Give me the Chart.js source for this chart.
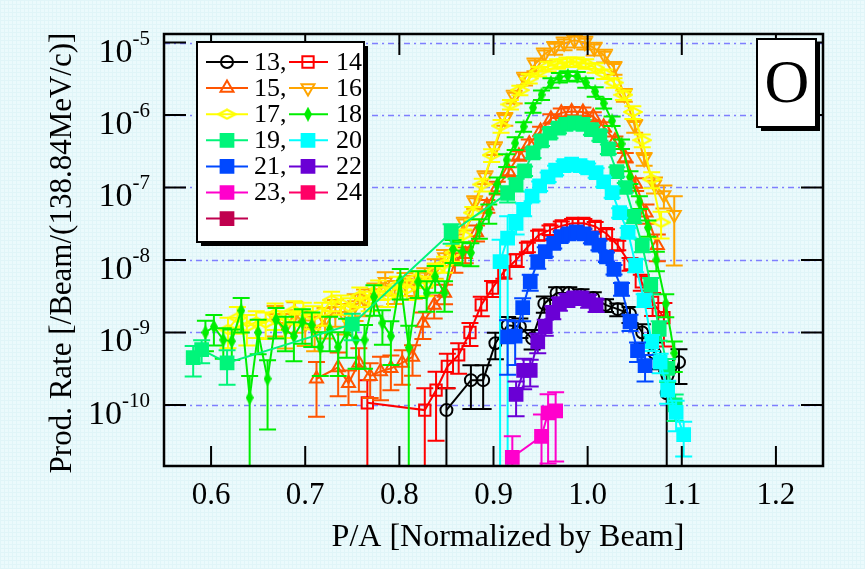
<!DOCTYPE html>
<html>
<head>
<meta charset="utf-8">
<script src="https://cdn.jsdelivr.net/npm/chart.js@4.4.1/dist/chart.umd.min.js"></script>
<style>
html, body { margin: 0; padding: 0; background: #e8f9fb; }
canvas { display: block; }
</style>
</head>
<body>
<canvas id="prodChart" width="865" height="569"></canvas>
<script>
// isotope names (legend) and axis ticks
var names = ["13", "14", "15", "16", "17", "18", "19", "20", "21", "22", "23", "24", ""];
var xTicks = [0.6, 0.7, 0.8, 0.9, 1.0, 1.1, 1.2];
var yTicks = [1e-10, 1e-9, 1e-8, 1e-7, 1e-6, 1e-5];
var yExps = ["-10", "-9", "-8", "-7", "-6", "-5"];

// 13O
var x13 = [0.850,0.876,0.889,0.902,0.915,0.928,0.941,0.954,0.967,0.980,0.993,1.006,1.019,1.032,1.045,1.058,1.071,1.084,1.097];
var y13 = [8.5e-11,2.2e-10,2.2e-10,7.1e-10,1.26e-9,1.2e-9,8.3e-10,2.5e-9,3.5e-9,3.5e-9,3.3e-9,3.0e-9,2.4e-9,2.1e-9,1.8e-9,1.0e-9,5.2e-10,1.45e-10,3.9e-10];
var e13 = [1.0,0.6,0.6,0.4,0.3,0.3,0.3,0.25,0.2,0.2,0.2,0.2,0.2,0.2,0.25,0.3,0.4,1.0,0.5];
// 14O
var x14 = [0.766,0.827,0.839,0.851,0.863,0.875,0.887,0.899,0.911,0.924,0.936,0.948,0.960,0.972,0.984,0.996,1.008,1.020,1.032,1.045,1.057,1.069,1.081];
var y14 = [1.07e-10,8.5e-11,1.6e-10,3.4e-10,4.9e-10,1.0e-9,2.4e-9,4.1e-9,6.9e-9,1.0e-8,1.5e-8,2.2e-8,2.6e-8,2.95e-8,3.2e-8,3.2e-8,2.9e-8,2.3e-8,1.6e-8,8.9e-9,5.0e-9,2.6e-9,1.6e-9];
var e14 = [1.05,1.0,0.8,0.5,0.45,0.35,0.3,0.25,0.2,0.2,0.15,0.15,0.15,0.15,0.15,0.15,0.15,0.15,0.15,0.2,0.25,0.35,0.6];
// 15O
var x15 = [0.712,0.735,0.746,0.757,0.769,0.780,0.791,0.803,0.814,0.825,0.837,0.848,0.859,0.870,0.882,0.893,0.904,0.916,0.927,0.938,0.950,0.961,0.972,0.983,0.995,1.006,1.017,1.029,1.040,1.051,1.062,1.074];
var y15 = [2.3e-10,3.3e-10,2.0e-10,3.8e-10,2.5e-10,2.9e-10,3.2e-10,3.8e-10,4.6e-10,1.35e-9,2.4e-9,3.5e-9,9.5e-9,1.2e-8,2.4e-8,5.6e-8,1.0e-7,1.66e-7,2.75e-7,4.0e-7,6.0e-7,8.9e-7,1.07e-6,1.12e-6,1.1e-6,9.5e-7,6.9e-7,4.4e-7,2.6e-7,1.12e-7,4.5e-8,1.6e-8];
var e15 = [0.7,0.6,0.5,0.6,0.5,0.6,0.5,0.5,0.45,0.4,0.35,0.3,0.3,0.25,0.25,0.2,0.2,0.15,0.15,0.15,0.15,0.15,0.15,0.15,0.15,0.15,0.15,0.15,0.15,0.2,0.3,0.4];
// 16O
var x16 = [0.668,0.679,0.689,0.700,0.710,0.721,0.732,0.742,0.753,0.763,0.774,0.785,0.795,0.806,0.816,0.827,0.838,0.848,0.859,0.869,0.880,0.891,0.901,0.912,0.922,0.933,0.944,0.954,0.965,0.975,0.986,0.997,1.007,1.018,1.028,1.039,1.050,1.060,1.071,1.081,1.092];
var y16 = [1.6e-9,1.2e-9,1.8e-9,1.3e-9,1.1e-9,1.5e-9,2.0e-9,1.7e-9,2.4e-9,2.8e-9,3.5e-9,5.0e-9,3.8e-9,4.9e-9,4.5e-9,5.9e-9,7.9e-9,1.1e-8,1.8e-8,3.2e-8,6.3e-8,1.4e-7,3.5e-7,8.9e-7,1.8e-6,3.2e-6,5.0e-6,6.9e-6,8.5e-6,9.8e-6,1.07e-5,1.0e-5,8.3e-6,6.6e-6,4.5e-6,1.9e-6,7.1e-7,2.5e-7,1.1e-7,7.9e-8,4.2e-8];
var e16 = [0.45,0.5,0.45,0.5,0.5,0.45,0.4,0.45,0.4,0.4,0.35,0.35,0.35,0.35,0.35,0.3,0.3,0.25,0.25,0.2,0.2,0.2,0.2,0.2,0.2,0.2,0.2,0.2,0.2,0.2,0.2,0.2,0.2,0.2,0.2,0.2,0.2,0.2,0.25,0.35,0.8];
// 17O
var x17 = [0.618,0.628,0.638,0.648,0.658,0.668,0.678,0.688,0.698,0.708,0.718,0.728,0.738,0.748,0.758,0.768,0.778,0.788,0.798,0.808,0.818,0.828,0.838,0.848,0.858,0.868,0.878,0.888,0.898,0.908,0.918,0.928,0.938,0.948,0.958,0.968,0.978,0.988,0.998,1.008,1.018,1.028,1.038,1.048,1.058,1.068,1.078];
var y17 = [1.1e-9,1.6e-9,1.2e-9,1.4e-9,1.35e-9,1.8e-9,1.4e-9,2.0e-9,1.9e-9,1.7e-9,1.9e-9,2.8e-9,2.5e-9,2.2e-9,3.2e-9,2.8e-9,4.0e-9,3.2e-9,4.5e-9,4.0e-9,5.6e-9,4.5e-9,7.1e-9,8.9e-9,1.26e-8,2.2e-8,4.5e-8,1.1e-7,2.8e-7,7.1e-7,1.4e-6,2.2e-6,3.2e-6,4.0e-6,4.7e-6,5.1e-6,5.4e-6,5.4e-6,5.1e-6,4.5e-6,3.7e-6,2.8e-6,1.9e-6,1.1e-6,4.5e-7,1.3e-7,3.3e-8];
var e17 = [0.45,0.4,0.45,0.4,0.4,0.4,0.4,0.35,0.35,0.35,0.35,0.3,0.3,0.35,0.3,0.3,0.3,0.3,0.3,0.3,0.25,0.3,0.25,0.25,0.25,0.2,0.2,0.2,0.2,0.2,0.15,0.15,0.15,0.15,0.15,0.15,0.15,0.15,0.15,0.15,0.15,0.15,0.15,0.2,0.2,0.25,0.4];
// 18O
var x18 = [0.594,0.603,0.613,0.622,0.632,0.641,0.650,0.660,0.669,0.679,0.688,0.697,0.707,0.716,0.726,0.735,0.744,0.754,0.763,0.773,0.782,0.791,0.801,0.810,0.820,0.829,0.838,0.848,0.857,0.867,0.876,0.885,0.895,0.904,0.914,0.923,0.932,0.942,0.951,0.961,0.970,0.979,0.989,0.998,1.008,1.017,1.026,1.036,1.045,1.055,1.064,1.073,1.083,1.092];
var y18 = [1.0e-9,1.2e-9,7.9e-10,7.6e-10,2.0e-9,1.26e-10,1.0e-9,2.3e-10,1.5e-9,1.1e-9,8.9e-10,1.4e-9,1.26e-9,6.3e-10,1.1e-9,6.3e-10,1.0e-9,7.9e-10,7.9e-10,3.1e-9,1.35e-9,8.9e-10,5.2e-9,6.2e-10,5.0e-9,3.5e-9,5.9e-9,3.5e-9,1.4e-8,1.3e-8,1.26e-8,2.8e-8,4.5e-8,1.1e-7,2.4e-7,4.1e-7,6.9e-7,1.26e-6,1.9e-6,2.8e-6,3.3e-6,3.5e-6,3.4e-6,2.8e-6,2.1e-6,1.45e-6,8.3e-7,4.0e-7,1.4e-7,6.3e-8,2.8e-8,1.0e-8,2.5e-9,5.2e-10];
var e18 = [0.45,0.45,0.45,0.45,0.5,1.0,0.5,0.8,0.45,0.5,0.55,0.5,0.5,0.6,0.5,0.6,0.55,0.6,0.6,0.45,0.5,0.6,0.45,1.0,0.4,0.45,0.4,0.45,0.35,0.35,0.35,0.3,0.3,0.25,0.2,0.2,0.15,0.15,0.15,0.15,0.15,0.15,0.15,0.15,0.15,0.15,0.15,0.15,0.2,0.2,0.25,0.3,0.35,0.45];
// 19O
var x19 = [0.581,0.590,0.617,0.750,0.855,0.915,0.924,0.933,0.942,0.951,0.960,0.969,0.977,0.986,0.995,1.004,1.013,1.022,1.031,1.040,1.049,1.058,1.067,1.076,1.085,1.093];
var y19 = [4.5e-10,5.8e-10,3.8e-10,1.3e-9,2.4e-8,8.3e-8,1.1e-7,1.7e-7,3.0e-7,4.4e-7,5.6e-7,6.6e-7,7.4e-7,7.8e-7,7.4e-7,6.3e-7,5.2e-7,3.4e-7,1.66e-7,1.0e-7,4.0e-8,1.6e-8,4.5e-9,1.1e-9,3.2e-10,1.0e-10];
var e19 = [0.45,0.35,0.5,0.4,0.3,0.25,0.2,0.15,0.15,0.15,0.15,0.15,0.15,0.15,0.15,0.15,0.15,0.15,0.15,0.15,0.2,0.2,0.25,0.3,0.35,0.4];
// 20O
var x20 = [0.907,0.915,0.924,0.932,0.941,0.949,0.958,0.966,0.975,0.983,0.992,1.000,1.009,1.017,1.026,1.034,1.043,1.051,1.060,1.068,1.077,1.085,1.094,1.102];
var y20 = [9.5e-9,2.0e-8,3.2e-8,5.0e-8,7.6e-8,1.05e-7,1.4e-7,1.74e-7,2.0e-7,2.1e-7,2.0e-7,1.86e-7,1.6e-7,1.2e-7,8.5e-8,4.5e-8,2.4e-8,8.5e-9,2.8e-9,7.4e-10,3.9e-10,1.6e-10,7.9e-11,3.9e-11];
var e20 = [1.0,1.0,0.3,0.2,0.15,0.15,0.15,0.15,0.15,0.15,0.15,0.15,0.15,0.15,0.15,0.15,0.15,0.2,0.2,0.25,0.3,0.35,0.45,0.5];
// 21O
var x21 = [0.915,0.923,0.931,0.939,0.947,0.955,0.964,0.972,0.980,0.988,0.996,1.004,1.012,1.020,1.028,1.036,1.045,1.053,1.061];
var y21 = [8.7e-10,8.9e-10,2.2e-9,5.0e-9,9.5e-9,1.3e-8,1.7e-8,2.1e-8,2.3e-8,2.45e-8,2.3e-8,2.0e-8,1.6e-8,1.1e-8,7.4e-9,4.0e-9,1.4e-9,5.6e-10,3.5e-10];
var e21 = [0.7,0.6,0.35,0.25,0.2,0.15,0.15,0.15,0.15,0.15,0.15,0.15,0.15,0.15,0.15,0.2,0.25,0.3,0.4];
// 22O
var x22 = [0.924,0.932,0.939,0.947,0.955,0.963,0.970,0.978,0.986,0.993,1.001,1.009];
var y22 = [1.4e-10,3.0e-10,3.0e-10,7.4e-10,1.2e-9,1.9e-9,2.5e-9,2.8e-9,3.0e-9,3.0e-9,2.75e-9,2.4e-9];
var e22 = [0.5,0.45,0.4,0.3,0.25,0.2,0.2,0.2,0.2,0.2,0.2,0.2];
// 23O
var x23 = [0.920,0.951,0.958,0.966];
var y23 = [1.9e-11,3.7e-11,7.8e-11,8.3e-11];
var e23 = [0.95,1.0,0.8,0.8];

var xs = [x13, x14, x15, x16, x17, x18, x19, x20, x21, x22, x23, [], []];
var ys = [y13, y14, y15, y16, y17, y18, y19, y20, y21, y22, y23, [], []];
var es = [e13, e14, e15, e16, e17, e18, e19, e20, e21, e22, e23, [], []];

var colors = ["#000000", "#ff0000", "#ff5500", "#ffa500", "#ffff00", "#00ee00", "#00f57a",
              "#00ffff", "#0048ff", "#6a00d5", "#ff00cc", "#ff0066", "#c0004e"];
var serif = "'Liberation Serif', 'Times New Roman', serif";

// odd marker shapes
function flatDiamond(color) {
    var c = document.createElement('canvas');
    c.width = 20; c.height = 12;
    var g = c.getContext('2d');
    g.strokeStyle = color; g.lineWidth = 2.2;
    g.beginPath();
    g.moveTo(1.5, 6); g.lineTo(10, 1.5); g.lineTo(18.5, 6); g.lineTo(10, 10.5); g.closePath();
    g.stroke();
    return c;
}
function thinDiamond(color) {
    var c = document.createElement('canvas');
    c.width = 8; c.height = 15;
    var g = c.getContext('2d');
    g.fillStyle = color;
    g.beginPath();
    g.moveTo(4, 0); g.lineTo(8, 7.5); g.lineTo(4, 15); g.lineTo(0, 7.5); g.closePath();
    g.fill();
    return c;
}

var markers = [
    {style: 'circle', r: 6, open: true},
    {style: 'rect', r: 8, open: true},
    {style: 'triangle', r: 7.5, open: true},
    {style: 'triangle', r: 7.5, open: true, rot: 180},
    {style: flatDiamond(colors[4]), r: 6},
    {style: thinDiamond(colors[5]), r: 6},
    {style: 'rect', r: 9}, {style: 'rect', r: 9}, {style: 'rect', r: 9}, {style: 'rect', r: 9},
    {style: 'rect', r: 9}, {style: 'rect', r: 9}, {style: 'rect', r: 9}
];

var datasets = names.map(function(n, i) {
    var pts = xs[i].map(function(x, k) { return {x: x, y: ys[i][k]}; });
    return {
        label: n,
        data: pts,
        errs: es[i],
        showLine: true,
        borderColor: colors[i],
        backgroundColor: markers[i].open ? 'rgba(0,0,0,0)' : colors[i],
        borderWidth: 2,
        pointStyle: markers[i].style,
        pointRadius: markers[i].r,
        pointRotation: markers[i].rot || 0,
        pointBorderWidth: 2,
        order: names.length - i
    };
});

// background texture
var pat = document.createElement('canvas');
pat.width = 4; pat.height = 4;
var pg = pat.getContext('2d');
pg.fillStyle = '#ebfafc'; pg.fillRect(0, 0, 4, 4);
pg.fillStyle = '#e0f5f8'; pg.fillRect(0, 0, 4, 1); pg.fillRect(0, 0, 1, 4);

var decor = {
    id: 'decor',
    beforeDraw: function(chart) {
        var ctx = chart.ctx;
        ctx.save();
        ctx.fillStyle = ctx.createPattern(pat, 'repeat');
        ctx.fillRect(0, 0, chart.width, chart.height);
        ctx.restore();
    },
    beforeDatasetsDraw: function(chart) {
        var ctx = chart.ctx, a = chart.chartArea, ysc = chart.scales.y;
        ctx.save();
        ctx.strokeStyle = '#7f7fff';
        ctx.lineWidth = 1.3;
        ctx.setLineDash([6, 4, 2, 4]);
        yTicks.forEach(function(v) {
            var py = Math.round(ysc.getPixelForValue(v)) + 0.5;
            ctx.beginPath(); ctx.moveTo(a.left, py); ctx.lineTo(a.right, py); ctx.stroke();
        });
        ctx.restore();
    },
    beforeDatasetDraw: function(chart, args) {
        var ds = chart.data.datasets[args.index];
        if (!ds.errs || !ds.errs.length) return;
        var ctx = chart.ctx, a = chart.chartArea, ysc = chart.scales.y;
        ctx.save();
        ctx.beginPath(); ctx.rect(a.left, a.top, a.right - a.left, a.bottom - a.top); ctx.clip();
        ctx.strokeStyle = ds.borderColor;
        ctx.lineWidth = 2;
        args.meta.data.forEach(function(pt, i) {
            var v = ds.data[i].y, e = ds.errs[i];
            var hi = ysc.getPixelForValue(v * (1 + e));
            var loV = v * (1 - e);
            var lo = loV > 0 ? ysc.getPixelForValue(loV) : a.bottom + 5;
            ctx.beginPath();
            ctx.moveTo(pt.x, hi); ctx.lineTo(pt.x, lo);
            ctx.moveTo(pt.x - 8.5, hi); ctx.lineTo(pt.x + 8.5, hi);
            if (loV > 0) { ctx.moveTo(pt.x - 8.5, lo); ctx.lineTo(pt.x + 8.5, lo); }
            ctx.stroke();
        });
        ctx.restore();
    },
    afterDraw: function(chart) {
        var ctx = chart.ctx, a = chart.chartArea;
        var xsc = chart.scales.x, ysc = chart.scales.y;
        ctx.save();
        // frame and inward ticks
        ctx.strokeStyle = '#000';
        ctx.lineWidth = 2.5;
        ctx.strokeRect(a.left, a.top, a.right - a.left, a.bottom - a.top);
        ctx.lineWidth = 2;
        ctx.beginPath();
        xTicks.forEach(function(v) {
            var px = xsc.getPixelForValue(v);
            ctx.moveTo(px, a.bottom); ctx.lineTo(px, a.bottom - 20);
            ctx.moveTo(px, a.top); ctx.lineTo(px, a.top + 21);
        });
        yTicks.forEach(function(v) {
            var py = ysc.getPixelForValue(v);
            ctx.moveTo(a.left, py); ctx.lineTo(a.left + 22, py);
            ctx.moveTo(a.right, py); ctx.lineTo(a.right - 22, py);
        });
        ctx.stroke();

        // y tick labels 10^n
        ctx.fillStyle = '#000';
        ctx.textBaseline = 'alphabetic';
        ctx.textAlign = 'left';
        yTicks.forEach(function(v, i) {
            var py = ysc.getPixelForValue(v);
            ctx.font = '21px ' + serif;
            var we = ctx.measureText(yExps[i]).width;
            ctx.font = '34px ' + serif;
            var wb = ctx.measureText('10').width;
            var right = 150;
            ctx.fillText('10', right - we - wb, py + 19);
            ctx.font = '21px ' + serif;
            ctx.fillText(yExps[i], right - we, py + 2);
        });

        // axis titles
        ctx.font = '32px ' + serif;
        ctx.textAlign = 'center';
        ctx.textBaseline = 'middle';
        ctx.fillText('P/A [Normalized by Beam]', 508, 538);
        ctx.save();
        ctx.translate(63, 253);
        ctx.rotate(-Math.PI / 2);
        ctx.font = '31px ' + serif;
        ctx.fillText('Prod. Rate [/Beam/(138.84MeV/c)]', 0, 0);
        ctx.restore();

        // legend box
        var bx = 197, by = 42, bw = 167, bh = 200;
        ctx.fillStyle = '#000';
        ctx.fillRect(bx + 4, by + 4, bw, bh);
        ctx.fillStyle = '#fff';
        ctx.fillRect(bx, by, bw, bh);
        ctx.lineWidth = 2;
        ctx.strokeStyle = '#000';
        ctx.strokeRect(bx, by, bw, bh);
        chart.data.datasets.forEach(function(ds, i) {
            var col = i % 2, row = Math.floor(i / 2);
            var cy = 62 + row * 26.1;
            var l0 = col ? 289 : 206, l1 = col ? 328 : 248, mx = col ? 308 : 227, tx = col ? 336 : 254;
            ctx.strokeStyle = ds.borderColor;
            ctx.lineWidth = 2;
            ctx.setLineDash([]);
            ctx.beginPath(); ctx.moveTo(l0, cy); ctx.lineTo(l1, cy); ctx.stroke();
            ctx.fillStyle = ds.backgroundColor;
            Chart.helpers.drawPoint(ctx, {
                pointStyle: ds.pointStyle, radius: ds.pointRadius,
                rotation: ds.pointRotation, borderWidth: 2
            }, mx, cy);
            if (ds.label) {
                ctx.fillStyle = '#000';
                ctx.font = '26px ' + serif;
                ctx.textAlign = 'left';
                ctx.textBaseline = 'middle';
                ctx.fillText(ds.label + (col ? '' : ','), tx, cy + 1);
            }
        });

        // element box
        ctx.fillStyle = '#000';
        ctx.fillRect(761, 43, 59, 88);
        ctx.fillStyle = '#fff';
        ctx.fillRect(757, 39, 59, 88);
        ctx.strokeStyle = '#000';
        ctx.lineWidth = 2;
        ctx.strokeRect(757, 39, 59, 88);
        ctx.fillStyle = '#000';
        ctx.font = '62px ' + serif;
        ctx.textAlign = 'center';
        ctx.textBaseline = 'middle';
        ctx.fillText('O', 787, 86);
        ctx.restore();
    }
};

new Chart(document.getElementById('prodChart').getContext('2d'), {
    type: 'scatter',
    data: { datasets: datasets },
    options: {
        responsive: false,
        animation: false,
        devicePixelRatio: 1,
        layout: { padding: { left: 0, right: 42, top: 34, bottom: 0 } },
        plugins: { legend: { display: false }, tooltip: { enabled: false } },
        scales: {
            x: {
                type: 'linear', min: 0.55, max: 1.25,
                afterBuildTicks: function(s) { s.ticks = xTicks.map(function(v) { return {value: v}; }); },
                afterFit: function(s) { s.height = 103; },
                grid: { display: false, drawTicks: false },
                border: { display: false },
                ticks: {
                    color: '#000', padding: 11, maxRotation: 0,
                    font: { family: serif, size: 31 },
                    callback: function(v) { return Number(v).toFixed(1); }
                },
                title: { display: false }
            },
            y: {
                type: 'logarithmic', min: 1.44e-11, max: 1.31e-5,
                afterBuildTicks: function(s) { s.ticks = yTicks.map(function(v) { return {value: v}; }); },
                afterFit: function(s) { s.width = 164; },
                grid: { display: false, drawTicks: false },
                border: { display: false },
                ticks: { display: false }
            }
        }
    },
    plugins: [decor]
});
</script>
</body>
</html>
